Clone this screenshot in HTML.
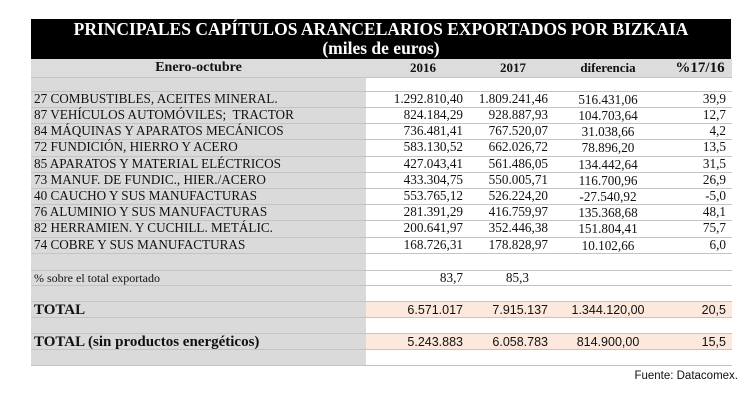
<!DOCTYPE html>
<html><head><meta charset="utf-8"><style>
body{margin:0;width:754px;height:400px;background:#fff;position:relative;overflow:hidden;font-family:"Liberation Serif",serif;}
.a{position:absolute;}
.hd{left:31px;width:700px;background:#000;color:#fff;font-weight:bold;text-align:center;}
.ln{position:absolute;left:31px;width:701px;height:1px;background:#c4c4c4;}
.t{position:absolute;font-size:13.2px;color:#111;white-space:nowrap;line-height:16px;}
.r{text-align:right;}
.c{text-align:center;}
.s{font-family:"Liberation Sans",sans-serif;font-size:12.5px;}
</style></head><body>
<div class="a hd" style="top:19px;height:40px;"></div>
<div class="a" style="left:31px;top:20px;width:700px;text-align:center;color:#fff;font-weight:bold;font-size:17.5px;line-height:19px;">PRINCIPALES CAPÍTULOS ARANCELARIOS EXPORTADOS POR BIZKAIA<br>(miles de euros)</div>
<div class="a" style="left:31px;top:59px;width:701px;height:18px;background:#dcdcdc;"></div>
<div class="a" style="left:31px;top:77px;width:335px;height:288px;background:#dadada;"></div>
<div class="a" style="left:366px;top:301px;width:366px;height:16px;background:#fce8dc;"></div>
<div class="a" style="left:366px;top:333px;width:366px;height:16px;background:#fce8dc;"></div>
<div class="t" style="left:31px;width:335px;top:60px;font-weight:bold;font-size:14px;text-align:center;">Enero-octubre</div>
<div class="t c" style="left:393px;width:60px;top:60px;font-weight:bold;font-size:13px;">2016</div>
<div class="t c" style="left:483px;width:60px;top:60px;font-weight:bold;font-size:13px;">2017</div>
<div class="t c" style="left:573px;width:70px;top:60px;font-weight:bold;font-size:13px;">diferencia</div>
<div class="t c" style="left:670px;width:60px;top:60px;font-weight:bold;font-size:15px;">%17/16</div>
<div class="ln" style="top:77px"></div><div class="ln" style="top:91px"></div><div class="ln" style="top:107px"></div><div class="ln" style="top:123px"></div><div class="ln" style="top:139px"></div><div class="ln" style="top:156px"></div><div class="ln" style="top:172px"></div><div class="ln" style="top:188px"></div><div class="ln" style="top:204px"></div><div class="ln" style="top:220px"></div><div class="ln" style="top:237px"></div><div class="ln" style="top:253px"></div><div class="ln" style="top:270px"></div><div class="ln" style="top:285px"></div><div class="ln" style="top:301px"></div><div class="ln" style="top:317px"></div><div class="ln" style="top:333px"></div><div class="ln" style="top:349px"></div><div class="ln" style="top:365px"></div>
<div class="t" style="left:34px;top:91px">27 COMBUSTIBLES, ACEITES MINERAL.</div>
<div class="t" style="left:34px;top:107px">87 VEHÍCULOS AUTOMÓVILES;&nbsp; TRACTOR</div>
<div class="t" style="left:34px;top:123px">84 MÁQUINAS Y APARATOS MECÁNICOS</div>
<div class="t" style="left:34px;top:139px">72 FUNDICIÓN, HIERRO Y ACERO</div>
<div class="t" style="left:34px;top:156px">85 APARATOS Y MATERIAL ELÉCTRICOS</div>
<div class="t" style="left:34px;top:172px">73 MANUF. DE FUNDIC., HIER./ACERO</div>
<div class="t" style="left:34px;top:188px">40 CAUCHO Y SUS MANUFACTURAS</div>
<div class="t" style="left:34px;top:204px">76 ALUMINIO Y SUS MANUFACTURAS</div>
<div class="t" style="left:34px;top:220px">82 HERRAMIEN. Y CUCHILL. METÁLIC.</div>
<div class="t" style="left:34px;top:237px">74 COBRE Y SUS MANUFACTURAS</div>
<div class="t" style="left:34px;top:270px;font-size:12px;">% sobre el total exportado</div>
<div class="t" style="left:34px;top:302px;font-weight:bold;font-size:15px;">TOTAL</div>
<div class="t" style="left:34px;top:334px;font-weight:bold;font-size:15px;">TOTAL (sin productos energéticos)</div>

<div class="t r" style="left:365px;width:98px;top:91px">1.292.810,40<br>824.184,29<br>736.481,41<br>583.130,52</div>
<div class="t r" style="left:365px;width:98px;top:156px">427.043,41<br>433.304,75<br>553.765,12<br>281.391,29</div>
<div class="t r" style="left:365px;width:98px;top:220px">200.641,97</div>
<div class="t r" style="left:365px;width:98px;top:237px">168.726,31</div>
<div class="t r" style="left:365px;width:98px;top:270px">83,7</div>

<div class="t r" style="left:450px;width:98px;top:91px">1.809.241,46<br>928.887,93<br>767.520,07<br>662.026,72</div>
<div class="t r" style="left:450px;width:98px;top:156px">561.486,05<br>550.005,71<br>526.224,20<br>416.759,97</div>
<div class="t r" style="left:450px;width:98px;top:220px">352.446,38</div>
<div class="t r" style="left:450px;width:98px;top:237px">178.828,97</div>
<div class="t r" style="left:450px;width:79px;top:270px">85,3</div>

<div class="t c" style="left:560px;width:96px;top:92px">516.431,06<br>104.703,64<br>31.038,66<br>78.896,20</div>
<div class="t c" style="left:560px;width:96px;top:157px">134.442,64<br>116.700,96<br>-27.540,92<br>135.368,68</div>
<div class="t c" style="left:560px;width:96px;top:221px">151.804,41</div>
<div class="t c" style="left:560px;width:96px;top:238px">10.102,66</div>

<div class="t r" style="left:660px;width:66px;top:91px">39,9<br>12,7<br>4,2<br>13,5</div>
<div class="t r" style="left:660px;width:66px;top:156px">31,5<br>26,9<br>-5,0<br>48,1</div>
<div class="t r" style="left:660px;width:66px;top:220px">75,7</div>
<div class="t r" style="left:660px;width:66px;top:237px">6,0</div>

<div class="t r s" style="left:365px;width:98px;top:302px">6.571.017</div>
<div class="t r s" style="left:450px;width:98px;top:302px">7.915.137</div>
<div class="t c s" style="left:560px;width:96px;top:302px">1.344.120,00</div>
<div class="t r s" style="left:660px;width:66px;top:302px">20,5</div>
<div class="t r s" style="left:365px;width:98px;top:334px">5.243.883</div>
<div class="t r s" style="left:450px;width:98px;top:334px">6.058.783</div>
<div class="t c s" style="left:560px;width:96px;top:334px">814.900,00</div>
<div class="t r s" style="left:660px;width:66px;top:334px">15,5</div>
<div class="t r s" style="left:600px;width:138px;top:368px;font-size:11.5px;">Fuente: Datacomex.</div>
</body></html>
